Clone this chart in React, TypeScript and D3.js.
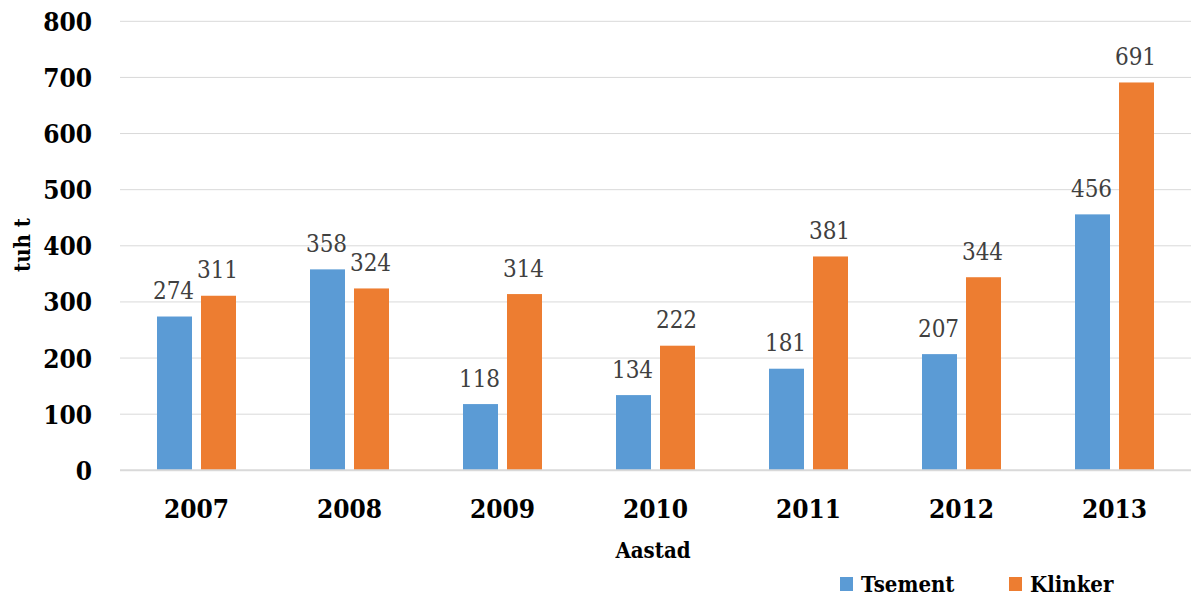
import React from "react";
import * as d3 from "d3";

const years = ["2007", "2008", "2009", "2010", "2011", "2012", "2013"];
const tsement = [274, 358, 118, 134, 181, 207, 456];
const klinker = [311, 324, 314, 222, 381, 344, 691];
const yTicks = [0, 100, 200, 300, 400, 500, 600, 700, 800];
const seriesNames = ["Tsement", "Klinker"];
const colors = ["#5B9BD5", "#ED7D31"];

const W = 1191;
const H = 599;
const left = 120;
const right = 1191;
const top = 21.3;
const bottom = 470.3;

const serif = '"DejaVu Serif Condensed", "DejaVu Serif", serif';

export default function App() {
  const x = d3.scaleBand<string>().domain(years).range([left, right]).paddingInner(0).paddingOuter(0);
  const y = d3.scaleLinear().domain([0, 800]).range([bottom, top]);
  const step = x.bandwidth();
  const barW = 35;
  const gap = 9;
  const series = [tsement, klinker];

  return (
    <svg width={W} height={H} style={{ position: "absolute", left: 0, top: 0, background: "#fff", fontFamily: serif }}>
      {yTicks.map((t) => (
        <g key={t}>
          {t > 0 && (
            <line x1={left} x2={right} y1={y(t)} y2={y(t)} stroke="#d9d9d9" strokeWidth={1} />
          )}
          <text
            x={92}
            y={y(t) + 9.5}
            textAnchor="end"
            style={{ fontFamily: serif, fontWeight: "bold", fontSize: 26 }}
            fill="#000"
          >
            {t}
          </text>
        </g>
      ))}
      {years.map((yr, i) => {
        const cx = (x(yr) as number) + step / 2;
        return (
          <g key={yr}>
            {series.map((s, j) => {
              const bx = j === 0 ? cx - gap / 2 - barW : cx + gap / 2;
              const v = s[i];
              return (
                <g key={j}>
                  <rect x={bx} y={y(v)} width={barW} height={bottom - y(v)} fill={colors[j]} />
                  <text
                    x={bx + barW / 2 - 1}
                    y={y(v) - 17.5}
                    textAnchor="middle"
                    style={{ fontFamily: serif, fontSize: 24 }}
                    fill="#404040"
                  >
                    {v}
                  </text>
                </g>
              );
            })}
            <text
              x={cx}
              y={518}
              textAnchor="middle"
              style={{ fontFamily: serif, fontWeight: "bold", fontSize: 26 }}
              fill="#000"
            >
              {yr}
            </text>
          </g>
        );
      })}
      <line x1={left} x2={right} y1={bottom} y2={bottom} stroke="#d9d9d9" strokeWidth={2} />
      <text
        transform={`translate(30,245) rotate(-90)`}
        textAnchor="middle"
        style={{ fontFamily: serif, fontWeight: "bold", fontSize: 22 }}
        fill="#000"
      >
        tuh t
      </text>
      <text x={653} y={557.5} textAnchor="middle" style={{ fontFamily: serif, fontWeight: "bold", fontSize: 22 }} fill="#000">
        Aastad
      </text>
      {seriesNames.map((n, j) => {
        const lx = j === 0 ? 840 : 1009;
        return (
          <g key={n}>
            <rect x={lx} y={577} width={13} height={14} fill={colors[j]} />
            <text x={lx + 21} y={591.5} style={{ fontFamily: serif, fontWeight: "bold", fontSize: 22 }} fill="#000">
              {n}
            </text>
          </g>
        );
      })}
    </svg>
  );
}
